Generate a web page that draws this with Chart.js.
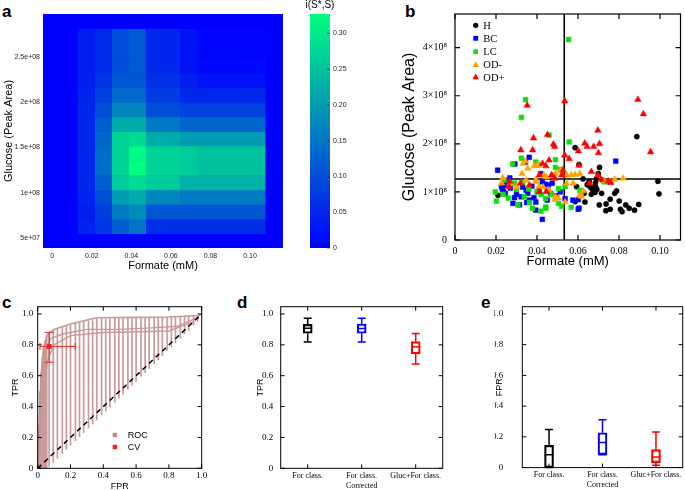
<!DOCTYPE html>
<html>
<head>
<meta charset="utf-8">
<script src="https://cdn.jsdelivr.net/npm/chart.js@4.4.1/dist/chart.umd.min.js"></script>
<style>
body{margin:0;background:#fff;width:685px;height:490px;overflow:hidden;position:relative;}
canvas{position:absolute;}
.lab{position:absolute;font:bold 17px "Liberation Sans",Arial,sans-serif;line-height:17px;color:#000;}
</style>
</head>
<body>
<div class="lab" style="left:2px;top:3px">a</div>
<div class="lab" style="left:405px;top:3px">b</div>
<div class="lab" style="left:2px;top:294px">c</div>
<div class="lab" style="left:237px;top:294px">d</div>
<div class="lab" style="left:481px;top:294px">e</div>

<canvas id="heat" width="300" height="275" style="left:0;top:0"></canvas>
<canvas id="cbar" width="60" height="275" style="left:300px;top:0"></canvas>
<canvas id="scat" width="340" height="275" style="left:345px;top:0"></canvas>
<canvas id="roc" width="228" height="212" style="left:0;top:280px"></canvas>
<canvas id="tpr" width="230" height="212" style="left:230px;top:280px"></canvas>
<canvas id="fpr" width="225" height="212" style="left:460px;top:280px"></canvas>

<script>
// ---------- panel a : heat map ----------
const heatXEdges = [0.013,0.0216,0.0302,0.0388,0.0474,0.056,0.0646,0.0732,0.0818,0.0904,0.099,0.1076];
const heatYEdges = [0.551e8,0.712e8,0.873e8,1.034e8,1.195e8,1.356e8,1.517e8,1.678e8,1.839e8,2.0e8,2.161e8,2.322e8,2.483e8,2.644e8,2.805e8];
// rows from bottom to top, 11 columns each
const heatValues = [
  [0.045,0.07,0.12,0.15,0.06,0.06,0.06,0.06,0.06,0.06,0.06],
  [0.04,0.08,0.155,0.18,0.11,0.11,0.11,0.11,0.11,0.11,0.11],
  [0.045,0.10,0.20,0.22,0.17,0.17,0.155,0.155,0.155,0.155,0.155],
  [0.05,0.12,0.26,0.28,0.26,0.26,0.23,0.23,0.23,0.23,0.23],
  [0.05,0.14,0.27,0.33,0.27,0.27,0.26,0.25,0.25,0.25,0.25],
  [0.05,0.14,0.27,0.32,0.27,0.27,0.26,0.25,0.25,0.25,0.25],
  [0.05,0.13,0.27,0.28,0.22,0.22,0.20,0.20,0.20,0.20,0.20],
  [0.05,0.12,0.22,0.22,0.155,0.155,0.13,0.13,0.13,0.13,0.13],
  [0.05,0.10,0.17,0.17,0.10,0.10,0.085,0.085,0.085,0.085,0.085],
  [0.045,0.08,0.135,0.135,0.077,0.077,0.05,0.05,0.05,0.05,0.05],
  [0.04,0.065,0.11,0.11,0.06,0.06,0.04,0.02,0.02,0.02,0.02],
  [0.04,0.055,0.10,0.115,0.05,0.05,0.025,0.01,0.01,0.01,0.01],
  [0.04,0.055,0.10,0.115,0.05,0.05,0.025,0.005,0.005,0.005,0.005],
  [0.04,0.055,0.10,0.115,0.05,0.05,0.025,0.005,0.005,0.005,0.005]
];
const heatYTicks = [0.5e8,1e8,1.5e8,2e8,2.5e8];
const heatYLabels = ['5e+07','1e+08','1.5e+08','2e+08','2.5e+08'];
const cbMax = 0.327;

// ---------- panel b : scatter ----------
const hX = [0.021,0.0586,0.0605,0.0705,0.0699,0.0887,0.099,0.0995,0.069,0.0685,0.0683,0.0692,0.0683,0.0688,0.0715,0.0779,0.0788,0.0757,0.0704,0.0737,0.0801,0.0833,0.085,0.0876,0.0896,0.0736,0.0757,0.0807,0.0815,0.0634,0.0593,0.0617,0.0586,0.063,0.066,0.0655,0.067,0.0645,0.072,0.0625,0.0665];
const hY = [0.93,1.92,1.57,1.51,1.38,2.15,1.22,0.96,1.27,1.19,1.12,1.05,0.99,1.08,0.97,0.97,1.02,0.85,0.73,0.75,0.81,0.73,0.66,0.62,0.74,0.61,0.64,0.64,0.59,0.79,1.11,0.97,0.80,0.97,1.10,1.22,1.05,1.15,1.24,1.27,0.95];
const bcX = [0.0208,0.0784,0.0362,0.0343,0.0292,0.0267,0.0227,0.0232,0.0237,0.023,0.024,0.0245,0.0283,0.0315,0.0347,0.0355,0.0323,0.0362,0.0394,0.0418,0.0426,0.0394,0.0426,0.044,0.0455,0.0474,0.0466,0.0513,0.0537,0.0575,0.0601,0.045,0.0602,0.0605,0.027,0.03,0.033,0.0375,0.0385,0.041,0.0255,0.029,0.035,0.045,0.0495];
const bcY = [1.45,1.64,1.72,1.62,1.58,1.29,1.12,1.05,1.0,1.09,1.14,0.97,0.76,0.73,1.04,0.97,0.90,0.83,0.79,1.38,0.43,0.62,1.21,1.16,1.14,1.18,0.97,1.0,0.86,0.83,0.64,0.83,0.84,0.66,1.08,0.95,1.10,1.12,0.88,1.02,1.22,0.88,0.78,1.05,0.92];
const lcX = [0.0554,0.0344,0.0324,0.0459,0.0557,0.0281,0.0324,0.049,0.049,0.0197,0.0202,0.0728,0.0567,0.0419,0.0443,0.0363,0.0268,0.026,0.0307,0.0338,0.0378,0.0394,0.041,0.0291,0.0513,0.0505,0.0442,0.0442,0.0505,0.0537,0.0617,0.024,0.033,0.036,0.04,0.042,0.047,0.03,0.0235,0.052,0.061];
const lcY = [4.17,2.92,2.55,2.18,2.04,1.58,1.70,1.67,1.51,1.0,0.81,1.21,0.68,0.60,0.66,0.78,1.18,0.87,0.73,0.90,0.66,1.62,1.56,1.18,1.47,1.07,0.86,0.69,0.76,1.11,0.93,1.25,1.20,1.06,1.0,0.95,0.95,1.05,0.95,0.70,1.03];
const odmX = [0.0233,0.0227,0.027,0.0331,0.0343,0.0355,0.0386,0.0402,0.0327,0.0347,0.0394,0.041,0.0395,0.0434,0.0446,0.0478,0.049,0.0514,0.0521,0.0545,0.0567,0.0586,0.0609,0.0545,0.0577,0.045,0.049,0.0505,0.0537,0.0625,0.0617,0.0608,0.0487,0.0459,0.0729,0.0757,0.0779,0.082,0.03,0.043];
const odmY = [1.29,1.18,1.18,1.59,1.64,1.49,1.54,1.56,1.38,1.24,1.21,1.11,1.25,1.35,1.31,1.34,1.38,1.45,1.45,1.35,1.35,1.36,1.38,1.18,1.18,1.04,0.90,0.87,0.79,1.02,0.90,0.93,0.84,1.04,1.23,1.21,1.26,1.28,1.10,1.10];
const odpX = [0.0535,0.0352,0.0892,0.0919,0.0954,0.0383,0.0451,0.048,0.0486,0.0321,0.0379,0.0535,0.0557,0.0459,0.0427,0.0443,0.0602,0.0633,0.0644,0.0676,0.0697,0.0705,0.07,0.0665,0.0697,0.0605,0.0527,0.0471,0.0487,0.0411,0.0411,0.0446,0.0363,0.0265,0.0263,0.076,0.0712,0.0747,0.0656,0.0521,0.0319];
const odpY = [2.89,2.80,2.92,2.62,1.83,2.12,2.19,1.99,1.94,1.87,1.87,1.76,1.69,1.66,1.59,1.54,1.85,2.01,1.94,1.94,2.28,2.0,1.81,1.42,1.35,1.55,1.45,1.35,1.28,1.35,1.0,1.0,1.14,1.22,1.11,1.19,1.26,1.22,1.18,1.35,1.18];
const groupNames = ['H','BC','LC','OD-','OD+'];
const thrX = 0.0533, thrY = 1.27e8;
const bYTicks = [0,1e8,2e8,3e8,4e8];
const bYLabels = ['0','1\u00d710\u2078','2\u00d710\u2078','3\u00d710\u2078','4\u00d710\u2078'];

// ---------- panel c : ROC ----------
const rocBarX  = [0.005,0.012,0.02,0.028,0.036,0.045,0.055,0.07,0.095,0.12,0.15,0.175,0.2,0.23,0.255,0.28,0.31,0.335,0.36,0.39,0.415,0.44,0.47,0.495,0.52,0.55,0.575,0.6,0.63,0.655,0.68,0.71,0.735,0.76,0.79,0.815,0.84,0.87,0.895,0.92,0.95,0.975];
const rocBarLo = [0,0,0,0,0,0,0,0.01,0.036,0.062,0.094,0.12,0.146,0.177,0.203,0.229,0.26,0.286,0.312,0.343,0.369,0.395,0.426,0.452,0.478,0.51,0.536,0.562,0.593,0.619,0.645,0.676,0.70,0.728,0.76,0.785,0.81,0.84,0.87,0.89,0.925,0.95];
const rocBarHi = [0.28,0.5,0.62,0.72,0.78,0.83,0.86,0.88,0.9,0.91,0.92,0.925,0.93,0.94,0.945,0.95,0.955,0.96,0.97,0.97,0.972,0.972,0.974,0.975,0.975,0.975,0.976,0.976,0.977,0.978,0.978,0.979,0.98,0.98,0.98,0.982,0.983,0.984,0.985,0.986,0.988,0.99];
const rocCurveX1 = [0,0.01,0.02,0.035,0.06,0.1,0.2,0.3,0.36,0.6,0.8,0.98,1];
const rocCurveY1 = [0,0.3,0.6,0.78,0.87,0.9,0.935,0.96,0.975,0.978,0.98,0.99,1];
const rocCurveX2 = [0,0.015,0.03,0.05,0.08,0.15,0.3,0.5,0.7,0.85,0.98];
const rocCurveY2 = [0,0.35,0.62,0.78,0.84,0.87,0.9,0.9,0.91,0.92,0.98];
const rocCurveX3 = [0,0.02,0.04,0.06,0.1,0.2,0.4,0.6,0.8,0.95];
const rocCurveY3 = [0,0.3,0.55,0.7,0.8,0.86,0.88,0.885,0.89,0.95];
const cvPoint = {x:0.07, y:0.79, xLo:0.014, xHi:0.228, yLo:0.687, yHi:0.881};

// ---------- panels d, e : box plots ----------
const boxCats = ['For class.', ['For class.','Corrected'], 'Gluc+For class.'];
const boxColors = ['#000000','#0000ff','#ff0000'];
const tprLow = [0.819,0.819,0.676], tprQ1 = [0.875,0.875,0.741], tprMed = [0.907,0.905,0.788], tprQ3 = [0.933,0.935,0.821], tprHigh = [0.972,0.972,0.873];
const fprLow = [0,0.084,0.015], fprQ1 = [0,0.084,0.032], fprMed = [0.084,0.164,0.069], fprQ3 = [0.145,0.227,0.117], fprHigh = [0.248,0.311,0.231];

// ---------- helpers ----------
const SANS = '"Liberation Sans", Arial, sans-serif';
const SERIF = '"Liberation Serif", "Times New Roman", serif';
Chart.defaults.color = '#000';
Chart.defaults.animation = false;

function winter(v){
  const t = Math.max(0, Math.min(1, v / cbMax));
  return 'rgb(0,' + Math.round(255*t) + ',' + Math.round(255 - 127*t) + ')';
}
function pts(xs, ys, scale){ return xs.map((x,i)=>({x:x, y:ys[i]*(scale||1)})); }
function noGrid(o){ return Object.assign({grid:{display:false,drawTicks:false}, border:{display:false}}, o); }

const framePlugin = {
  id:'frame',
  afterDatasetsDraw(chart, args, opts){
    const {ctx, chartArea:a, scales} = chart;
    const L = opts.len || 4;
    ctx.save();
    ctx.strokeStyle = '#000';
    ctx.lineWidth = opts.width || 1;
    ctx.strokeRect(a.left, a.top, a.right-a.left, a.bottom-a.top);
    ctx.beginPath();
    scales.x.ticks.forEach((t,i)=>{
      const p = scales.x.getPixelForTick(i);
      ctx.moveTo(p, a.bottom); ctx.lineTo(p, a.bottom-L);
      ctx.moveTo(p, a.top); ctx.lineTo(p, a.top+L);
    });
    scales.y.ticks.forEach((t,i)=>{
      const p = scales.y.getPixelForTick(i);
      ctx.moveTo(a.left, p); ctx.lineTo(a.left+L, p);
      ctx.moveTo(a.right, p); ctx.lineTo(a.right-L, p);
    });
    ctx.stroke();
    ctx.restore();
  }
};

// ---------- chart a ----------
const heatPlugin = {
  id:'heat',
  beforeDatasetsDraw(chart){
    const {ctx, chartArea:a, scales:{x,y}} = chart;
    ctx.save();
    ctx.fillStyle = winter(0);
    ctx.fillRect(a.left, a.top, a.right-a.left, a.bottom-a.top);
    for(let r=0; r<heatValues.length; r++){
      for(let c=0; c<heatValues[r].length; c++){
        const x0 = x.getPixelForValue(heatXEdges[c]), x1 = x.getPixelForValue(heatXEdges[c+1]);
        const y0 = y.getPixelForValue(heatYEdges[r]), y1 = y.getPixelForValue(heatYEdges[r+1]);
        ctx.fillStyle = winter(heatValues[r][c]);
        ctx.fillRect(x0, y1, x1-x0+0.4, y0-y1+0.4);
      }
    }
    ctx.restore();
  }
};
new Chart(document.getElementById('heat'), {
  type:'scatter',
  data:{datasets:[{data:[], pointRadius:0}]},
  options:{
    responsive:false,
    layout:{padding:{left:2, top:14, right:17, bottom:2.4}},
    plugins:{legend:{display:false}, tooltip:{enabled:false}},
    scales:{
      x: noGrid({type:'linear', min:-0.0047, max:0.1167,
        ticks:{stepSize:0.02, includeBounds:false, padding:4, color:'#222', font:{family:SANS, size:7}},
        title:{display:true, text:'Formate (mM)', padding:0, font:{family:SANS, size:11}},
        afterFit(s){ s.height = 24.6; }}),
      y: noGrid({type:'linear', min:0.393e8, max:2.97e8,
        afterBuildTicks(s){ s.ticks = heatYTicks.map(v=>({value:v})); },
        ticks:{padding:3, color:'#222', font:{family:SANS, size:7}, callback:(v,i)=>heatYLabels[i]},
        title:{display:true, text:'Glucose (Peak Area)', padding:0, font:{family:SANS, size:11}},
        afterFit(s){ s.width = 41; }})
    }
  },
  plugins:[heatPlugin]
});

// colour bar
const cbPlugin = {
  id:'cbdeco',
  afterDatasetsDraw(chart){
    const {ctx, chartArea:a, scales:{y}} = chart;
    ctx.save();
    ctx.fillStyle = '#000';
    ctx.font = '10px ' + SANS;
    ctx.textAlign = 'center';
    ctx.textBaseline = 'middle';
    ctx.fillText('i(S*,S)', (a.left+a.right)/2, 5);
    ctx.strokeStyle = 'rgba(40,40,40,0.8)';
    ctx.lineWidth = 0.8;
    ctx.beginPath();
    y.ticks.forEach((t,i)=>{ const p = y.getPixelForTick(i); ctx.moveTo(a.right, p); ctx.lineTo(a.right-3, p); });
    ctx.stroke();
    ctx.restore();
  }
};
new Chart(document.getElementById('cbar'), {
  type:'bar',
  data:{labels:[''], datasets:[{data:[[0,cbMax]], barPercentage:1, categoryPercentage:1, borderWidth:0,
    backgroundColor:(c)=>{
      const a = c.chart.chartArea;
      if(!a) return '#0000ff';
      const g = c.chart.ctx.createLinearGradient(0, a.bottom, 0, a.top);
      g.addColorStop(0, winter(0)); g.addColorStop(1, winter(cbMax));
      return g;
    }}]},
  options:{
    responsive:false,
    layout:{padding:{left:10, top:14, right:0, bottom:27}},
    plugins:{legend:{display:false}, tooltip:{enabled:false}},
    scales:{
      x:{display:false},
      y: noGrid({position:'right', min:0, max:cbMax,
        ticks:{stepSize:0.05, includeBounds:false, padding:3, color:'#222', font:{family:SANS, size:7}},
        afterFit(s){ s.width = 30; }})
    }
  },
  plugins:[cbPlugin]
});

// ---------- chart b ----------
const bLegendPlugin = {
  id:'blegend',
  afterDatasetsDraw(chart){
    const {ctx, chartArea:a} = chart;
    const styles = [['circle','#000000'],['rect','#0000ff'],['rect','#11dd11'],['triangle','#ffa500'],['triangle','#ff0000']];
    const rows = [25.3,38.3,51.7,65,77.3];
    ctx.save();
    ctx.font = '10.5px ' + SERIF;
    ctx.textBaseline = 'middle';
    styles.forEach((s,i)=>{
      const r = s[0]==='circle'?2.6:(s[0]==='rect'?2.4:3.8), cx = a.left+20.7, cy = rows[i];
      ctx.fillStyle = s[1];
      ctx.beginPath();
      if(s[0]==='circle'){ ctx.arc(cx, cy, r, 0, Math.PI*2); }
      else if(s[0]==='rect'){ ctx.rect(cx-r, cy-r, 2*r, 2*r); }
      else { ctx.moveTo(cx, cy-r); ctx.lineTo(cx+r*0.866, cy+r*0.5); ctx.lineTo(cx-r*0.866, cy+r*0.5); ctx.closePath(); }
      ctx.fill();
      ctx.fillStyle = '#000';
      ctx.fillText(groupNames[i], a.left+28.3, rows[i]+0.5);
    });
    ctx.restore();
  }
};
function grp(xs, ys, style, color, r, order){
  return {data:pts(xs, ys, 1e8), pointStyle:style, pointRadius:r, pointBackgroundColor:color, pointBorderColor:color, pointBorderWidth:0.5, order:order};
}
new Chart(document.getElementById('scat'), {
  type:'scatter',
  data:{datasets:[
    grp(hX, hY, 'circle', '#000000', 2.6, 4),
    grp(bcX, bcY, 'rect', '#0000ff', 3.4, 3),
    grp(lcX, lcY, 'rect', '#11dd11', 3.4, 2),
    grp(odmX, odmY, 'triangle', '#ffa500', 3.8, 1),
    grp(odpX, odpY, 'triangle', '#ff0000', 3.8, 0),
    {data:[{x:thrX,y:0},{x:thrX,y:4.7e8}], showLine:true, pointRadius:0, borderColor:'#000', borderWidth:1.6, order:9},
    {data:[{x:0,y:thrY},{x:0.11,y:thrY}], showLine:true, pointRadius:0, borderColor:'#000', borderWidth:1.6, order:9}
  ]},
  options:{
    responsive:false,
    layout:{padding:{left:55.4, top:14, right:2, bottom:6}},
    plugins:{legend:{display:false}, tooltip:{enabled:false}, frame:{len:5, width:1.2}},
    scales:{
      x: noGrid({type:'linear', min:0, max:0.11,
        ticks:{stepSize:0.02, includeBounds:false, padding:5, font:{family:SERIF, size:10}},
        title:{display:true, text:'Formate (mM)', padding:0, font:{family:SANS, size:13}},
        afterFit(s){ s.height = 29; }}),
      y: noGrid({type:'linear', min:0, max:4.7e8,
        afterBuildTicks(s){ s.ticks = bYTicks.map(v=>({value:v})); },
        ticks:{padding:8, font:{family:SERIF, size:10}, callback:(v,i)=>bYLabels[i]},
        title:{display:true, text:'Glucose (Peak Area)', padding:0, font:{family:SANS, size:16}},
        afterFit(s){ s.width = 54.6; }})
    }
  },
  plugins:[framePlugin, bLegendPlugin]
});

// ---------- chart c ----------
const rocBarData = [];
rocBarX.forEach((x,i)=>{ rocBarData.push({x:x,y:rocBarLo[i]},{x:x,y:rocBarHi[i]},{x:x,y:null}); });
const rocColor = 'rgba(198,150,150,0.95)';
const cvPlugin = {
  id:'cv',
  afterDatasetsDraw(chart){
    const {ctx, chartArea:a, scales:{x,y}} = chart;
    const px = x.getPixelForValue(cvPoint.x), py = y.getPixelForValue(cvPoint.y);
    ctx.save();
    ctx.strokeStyle = '#ee2222'; ctx.fillStyle = '#ee2222'; ctx.lineWidth = 1;
    ctx.beginPath();
    const xl = x.getPixelForValue(cvPoint.xLo), xh = x.getPixelForValue(cvPoint.xHi);
    const yl = y.getPixelForValue(cvPoint.yLo), yh = y.getPixelForValue(cvPoint.yHi);
    ctx.moveTo(xl, py); ctx.lineTo(xh, py);
    ctx.moveTo(xl, py-3.5); ctx.lineTo(xl, py+3.5);
    ctx.moveTo(xh, py-3.5); ctx.lineTo(xh, py+3.5);
    ctx.moveTo(px, yl); ctx.lineTo(px, yh);
    ctx.moveTo(px-4.5, yl); ctx.lineTo(px+4.5, yl);
    ctx.moveTo(px-4.5, yh); ctx.lineTo(px+4.5, yh);
    ctx.stroke();
    ctx.fillRect(px-2.5, py-2.5, 5, 5);
    // legend
    ctx.font = '9px ' + SANS;
    ctx.textBaseline = 'middle';
    ctx.fillStyle = 'rgb(190,140,140)';
    ctx.fillRect(a.left+75, 435-280-2.2, 4.4, 4.4);
    ctx.fillStyle = '#ee2222';
    ctx.fillRect(a.left+75, 447-280-2.2, 4.4, 4.4);
    ctx.fillStyle = '#000';
    ctx.fillText('ROC', a.left+90, 435-280+0.5);
    ctx.fillText('CV', a.left+90, 447-280+0.5);
    ctx.restore();
  }
};
new Chart(document.getElementById('roc'), {
  type:'scatter',
  data:{datasets:[
    {data:[{x:0,y:0},{x:1,y:1}], showLine:true, pointRadius:0, borderColor:'#000', borderWidth:1.5, borderDash:[5,4], order:0},
    {data:rocBarData, showLine:true, pointRadius:0, borderColor:rocColor, borderWidth:1.7, spanGaps:false, order:3},
    {data:pts(rocCurveX1, rocCurveY1), showLine:true, pointRadius:0, borderColor:rocColor, borderWidth:1.6, order:2},
    {data:pts(rocCurveX2, rocCurveY2), showLine:true, pointRadius:0, borderColor:rocColor, borderWidth:1.4, order:2},
    {data:pts(rocCurveX3, rocCurveY3), showLine:true, pointRadius:0, borderColor:rocColor, borderWidth:1.4, order:2}
  ]},
  options:{
    responsive:false,
    layout:{padding:{left:10.1, top:26.7, right:26.3, bottom:0}},
    plugins:{legend:{display:false}, tooltip:{enabled:false}, frame:{len:4, width:1}},
    scales:{
      x: noGrid({type:'linear', min:0, max:1,
        ticks:{stepSize:0.2, includeBounds:false, padding:2, font:{family:SERIF, size:9}},
        title:{display:true, text:'FPR', padding:0, font:{family:SANS, size:9}},
        afterFit(s){ s.height = 23.7; }}),
      y: noGrid({type:'linear', min:0, max:1.047,
        ticks:{stepSize:0.2, includeBounds:false, padding:4.4, font:{family:SERIF, size:9}},
        title:{display:true, text:'TPR', padding:0, font:{family:SANS, size:9}},
        afterFit(s){ s.width = 27.6; }})
    }
  },
  plugins:[framePlugin, cvPlugin]
});

// ---------- charts d, e ----------
function whiskerPlugin(low, med, high){
  return {
    id:'whiskers',
    afterDatasetsDraw(chart){
      const {ctx, scales:{x,y}} = chart;
      ctx.save();
      ctx.lineWidth = 1.5;
      for(let i=0; i<low.length; i++){
        const cx = x.getPixelForValue(i);
        ctx.strokeStyle = boxColors[i];
        ctx.beginPath();
        const yh = y.getPixelForValue(high[i]), yl = y.getPixelForValue(low[i]), ym = y.getPixelForValue(med[i]);
        const yq3 = y.getPixelForValue(chart.data.datasets[0].data[i][1]);
        const yq1 = y.getPixelForValue(chart.data.datasets[0].data[i][0]);
        ctx.moveTo(cx, yq3); ctx.lineTo(cx, yh);
        ctx.moveTo(cx, yq1); ctx.lineTo(cx, yl);
        ctx.moveTo(cx-4, yh); ctx.lineTo(cx+4, yh);
        ctx.moveTo(cx-4, yl); ctx.lineTo(cx+4, yl);
        ctx.moveTo(cx-4.5, ym); ctx.lineTo(cx+4.5, ym);
        ctx.stroke();
      }
      ctx.restore();
    }
  };
}
function boxChart(id, title, q1, q3, low, med, high, padLeft, yWidth, tickPad, padRight){
  new Chart(document.getElementById(id), {
    type:'bar',
    data:{labels:boxCats, datasets:[{data:q1.map((v,i)=>[v,q3[i]]), borderColor:boxColors, backgroundColor:'rgba(0,0,0,0)',
      borderWidth:1.5, borderSkipped:false, barThickness:9}]},
    options:{
      responsive:false,
      layout:{padding:{left:padLeft, top:26.7, right:padRight, bottom:0}},
      plugins:{legend:{display:false}, tooltip:{enabled:false}, frame:{len:4, width:1}},
      scales:{
        x: noGrid({ticks:{padding:3, font:{family:SERIF, size:8}, maxRotation:0, autoSkip:false},
          afterFit(s){ s.height = 23.7; }}),
        y: noGrid({type:'linear', min:0, max:1.047,
          ticks:{stepSize:0.2, includeBounds:false, padding:tickPad, font:{family:SERIF, size:9}},
          title:{display:true, text:title, padding:0, font:{family:SANS, size:9}},
          afterFit(s){ s.width = yWidth; }})
      }
    },
    plugins:[framePlugin, whiskerPlugin(low, med, high)]
  });
}
boxChart('tpr', 'TPR', tprQ1, tprQ3, tprLow, tprMed, tprHigh, 24.8, 25.9, 7.4, 17.3);
boxChart('fpr', 'FPR', fprQ1, fprQ3, fprLow, fprMed, fprHigh, 34.3, 28, 19, 2.3);
</script>
</body>
</html>
